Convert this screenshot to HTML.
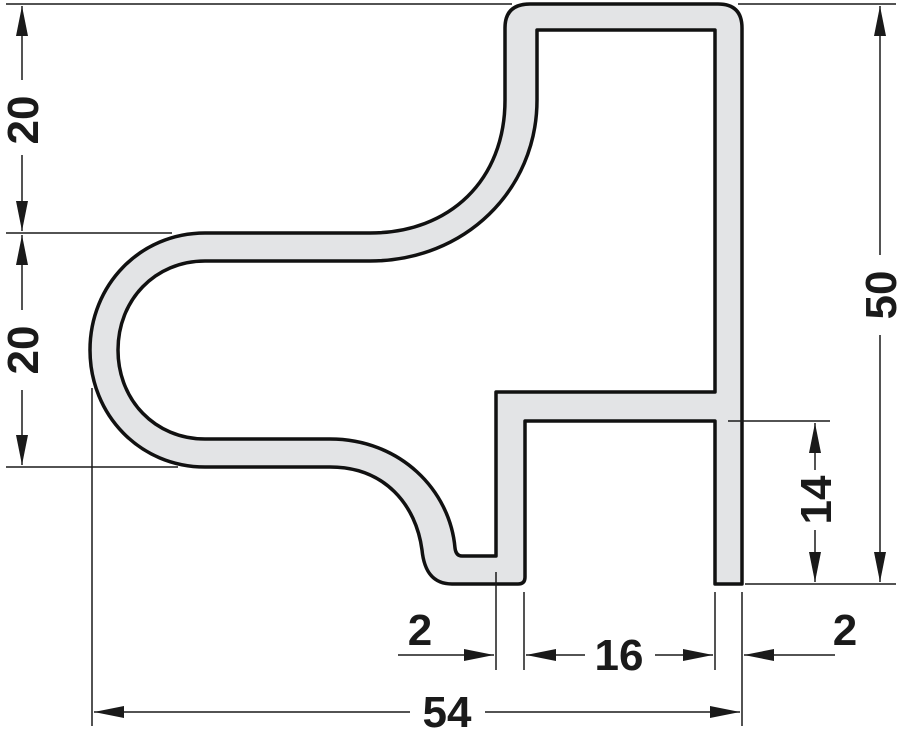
<!DOCTYPE html>
<html><head><style>
html,body{margin:0;padding:0;background:#fff;}
svg{display:block;}
text{font-family:"Liberation Sans",Arial,sans-serif;font-weight:bold;font-size:44px;fill:#1a1a1a;}
</style></head><body>
<svg width="910" height="730" viewBox="0 0 910 730" xmlns="http://www.w3.org/2000/svg">
<defs>
<marker id="a" viewBox="0 0 30 12" refX="30" refY="6" markerWidth="30" markerHeight="12" markerUnits="userSpaceOnUse" orient="auto">
<path d="M0,0 L30,6 L0,12 Z" fill="#1a1a1a"/></marker>
</defs>
<path fill="#e3e4e6" stroke="#111" stroke-width="3.5" fill-rule="evenodd" stroke-linejoin="round" d="
M 530 4 L 718 4 Q 742 4 742 28 L 742 584 L 715 584 L 715 421 L 525 421 L 525 577 Q 525 584 518 584 L 452 584 C 432 584 424 570 422 550 C 416 505 385 467 330 467 L 205 467 C 140 467 90 415 90 350 C 90 285 140 233 205 233 L 370 233 C 450 233 505 180 505 100 L 505 28 Q 505 4 530 4 Z
M 537 30 L 715 30 L 715 392 L 496 392 L 496 556 L 462 556 Q 456 556 455 548 C 450 490 400 439 330 439 L 205 439 C 155 439 118 400 118 350 C 118 300 155 261 205 261 L 370 261 C 465 261 537 190 537 100 Z"/>
<g stroke="#1a1a1a" stroke-width="1.5" fill="none">
<!-- extension lines -->
<line x1="6" y1="4" x2="512" y2="4"/>
<line x1="6" y1="233" x2="172" y2="233"/>
<line x1="6" y1="467" x2="178" y2="467"/>
<line x1="738" y1="4" x2="896" y2="4"/>
<line x1="745" y1="584" x2="896" y2="584"/>
<line x1="728" y1="421" x2="830" y2="421"/>
<line x1="92" y1="388" x2="92" y2="726"/>
<line x1="496" y1="572" x2="496" y2="670"/>
<line x1="524" y1="592" x2="524" y2="670"/>
<line x1="715" y1="592" x2="715" y2="670"/>
<line x1="742" y1="592" x2="742" y2="726"/>
<!-- left dims -->
<line x1="22" y1="80" x2="22" y2="6" marker-end="url(#a)"/>
<line x1="22" y1="155" x2="22" y2="231" marker-end="url(#a)"/>
<line x1="22" y1="310" x2="22" y2="235" marker-end="url(#a)"/>
<line x1="22" y1="390" x2="22" y2="465" marker-end="url(#a)"/>
<!-- right 50 -->
<line x1="880" y1="255" x2="880" y2="6" marker-end="url(#a)"/>
<line x1="880" y1="335" x2="880" y2="582" marker-end="url(#a)"/>
<!-- 14 -->
<line x1="815" y1="470" x2="815" y2="423" marker-end="url(#a)"/>
<line x1="815" y1="530" x2="815" y2="582" marker-end="url(#a)"/>
<!-- bottom small dims -->
<line x1="398" y1="655" x2="494" y2="655" marker-end="url(#a)"/>
<line x1="585" y1="655" x2="526" y2="655" marker-end="url(#a)"/>
<line x1="655" y1="655" x2="713" y2="655" marker-end="url(#a)"/>
<line x1="835" y1="655" x2="744" y2="655" marker-end="url(#a)"/>
<!-- 54 -->
<line x1="410" y1="712" x2="94" y2="712" marker-end="url(#a)"/>
<line x1="485" y1="712" x2="740" y2="712" marker-end="url(#a)"/>
</g>
<text transform="translate(38,120) rotate(-90)" text-anchor="middle">20</text>
<text transform="translate(38,350) rotate(-90)" text-anchor="middle">20</text>
<text transform="translate(896,295) rotate(-90)" text-anchor="middle">50</text>
<text transform="translate(831,500) rotate(-90)" text-anchor="middle">14</text>
<text x="420" y="645" text-anchor="middle">2</text>
<text x="619" y="670" text-anchor="middle">16</text>
<text x="845" y="645" text-anchor="middle">2</text>
<text x="447" y="727" text-anchor="middle">54</text>
</svg>
</body></html>
